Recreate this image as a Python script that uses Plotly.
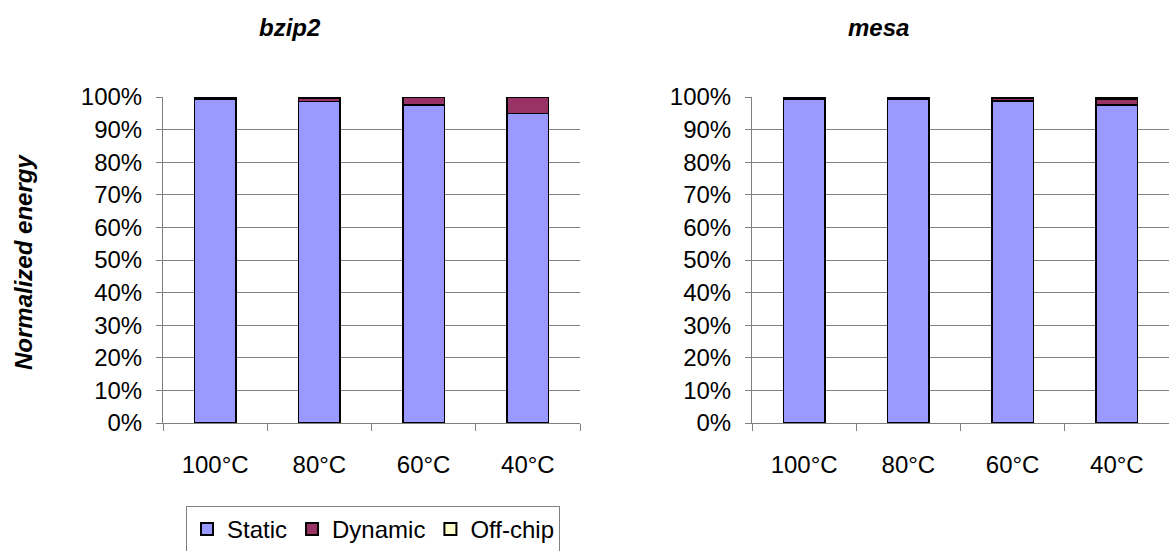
import plotly.graph_objects as go

categories = ["100°C", "80°C", "60°C", "40°C"]

bzip2_static = [99.3, 98.6, 97.5, 95.0]
bzip2_dynamic = [0.4, 1.1, 2.3, 4.8]
bzip2_offchip = [0.3, 0.3, 0.2, 0.2]

mesa_static = [99.4, 99.4, 98.8, 97.6]
mesa_dynamic = [0.3, 0.3, 0.7, 1.8]
mesa_offchip = [0.3, 0.3, 0.5, 0.6]

series_names = ["Static", "Dynamic", "Off-chip"]
series_colors = ["#9999FF", "#993366", "#FFFFCC"]

titles = ["bzip2", "mesa"]

W, H = 1169, 551
FONT = "Liberation Sans, Arial, sans-serif"

fig = go.Figure()

panels = [
    ("x", "y", [bzip2_static, bzip2_dynamic, bzip2_offchip], True),
    ("x2", "y2", [mesa_static, mesa_dynamic, mesa_offchip], False),
]
for xa, ya, vals, show in panels:
    for name, color, v in zip(series_names, series_colors, vals):
        fig.add_trace(go.Bar(
            x=categories, y=v, name=name, xaxis=xa, yaxis=ya,
            marker=dict(color=color, line=dict(color="black", width=1.5)),
            width=0.4, showlegend=show,
        ))

def px_x(p):
    return p / W

def px_y(p):
    return (H - p) / H

y_dom = [px_y(423), px_y(97)]
left_dom = [px_x(163), px_x(580)]
right_dom = [px_x(752), 1.0]

axis_font = dict(family=FONT, size=24, color="black")

yaxis_common = dict(
    range=[0, 100], dtick=10, ticksuffix="%", showgrid=True,
    gridcolor="#808080", gridwidth=1, showline=True, linecolor="#808080",
    linewidth=1, ticks="outside", ticklen=6, tickcolor="#808080",
    tickfont=axis_font, zeroline=False, domain=y_dom, fixedrange=True,
    ticklabelstandoff=9, automargin=False,
)
xaxis_common = dict(
    type="category", showgrid=False, showline=True, linecolor="#808080",
    linewidth=1, ticks="outside", ticklen=7, tickcolor="#808080",
    tickson="boundaries", tickfont=axis_font, fixedrange=True,
    ticklabelstandoff=20, automargin=False,
)

fig.update_layout(
    width=W, height=H,
    margin=dict(l=0, r=0, t=0, b=0, autoexpand=False),
    paper_bgcolor="white", plot_bgcolor="white",
    barmode="stack", bargap=0.6,
    font=dict(family=FONT, color="black"),
    xaxis=dict(domain=left_dom, anchor="y", **xaxis_common),
    yaxis=dict(anchor="x", **yaxis_common),
    xaxis2=dict(domain=right_dom, anchor="y2", **xaxis_common),
    yaxis2=dict(anchor="x2", **yaxis_common),
    legend=dict(
        orientation="h", x=px_x(186), y=px_y(506), xanchor="left", yanchor="top",
        bordercolor="#808080", borderwidth=1, font=dict(family=FONT, size=24),
        itemsizing="constant", traceorder="normal", tracegroupgap=0,
    ),
    showlegend=True,
)

title_font = dict(family=FONT, size=24, color="black")
fig.add_annotation(text="<b><i>" + titles[0] + "</i></b>", x=px_x(290), y=px_y(27),
                   xref="paper", yref="paper", showarrow=False,
                   xanchor="center", yanchor="middle", font=title_font)
fig.add_annotation(text="<b><i>" + titles[1] + "</i></b>", x=px_x(878), y=px_y(27),
                   xref="paper", yref="paper", showarrow=False,
                   xanchor="center", yanchor="middle", font=title_font)
fig.add_annotation(text="<b><i>Normalized energy</i></b>", x=px_x(23), y=px_y(262),
                   xref="paper", yref="paper", showarrow=False, textangle=-90,
                   xanchor="center", yanchor="middle", font=title_font)

fig.write_html(
    "out.html",
    config={"displayModeBar": False, "staticPlot": True},
    post_script="document.body.style.margin='0';document.body.style.overflow='hidden';",
)
